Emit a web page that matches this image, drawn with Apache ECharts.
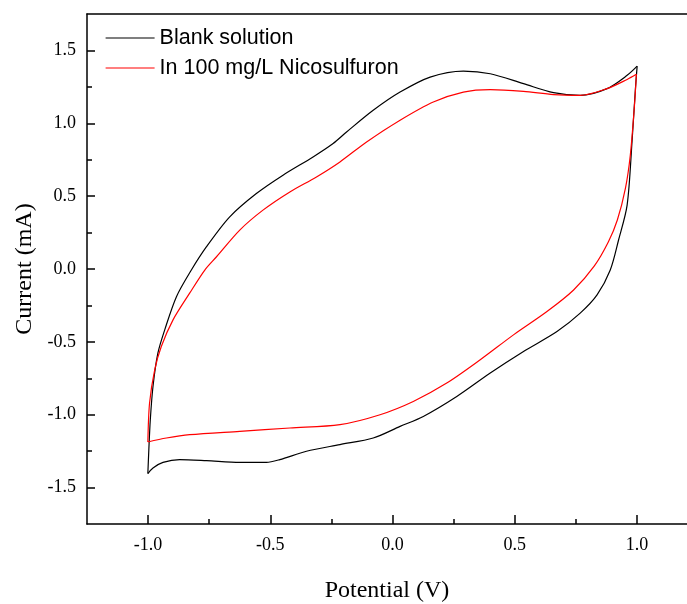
<!DOCTYPE html>
<html>
<head>
<meta charset="utf-8">
<script src="https://cdn.jsdelivr.net/npm/echarts@6/dist/echarts.min.js"></script>
<style>html,body{margin:0;padding:0;background:#fff;}#c{width:687px;height:604px;}</style>
</head>
<body>
<div id="c"></div>
<script>
// ---- data ----
const seriesNames = ['Blank solution', 'In 100 mg/L Nicosulfuron'];
const xTickValues = [-1.0, -0.5, 0.0, 0.5, 1.0];
const xMinorTickValues = [-0.75, -0.25, 0.25, 0.75];
const yTickValues = [-1.5, -1.0, -0.5, 0.0, 0.5, 1.0, 1.5];
const yMinorTickValues = [-1.25, -0.75, -0.25, 0.25, 0.75, 1.25];

// Blank solution: anodic (upper) branch, potential V and current mA
const blankAnodicV = [-1.001, -0.997, -0.991, -0.980, -0.960, -0.932, -0.884, -0.823, -0.761, -0.666, -0.557, -0.448, -0.325, -0.243, -0.188, -0.079, 0.031, 0.154, 0.290, 0.400, 0.536, 0.659, 0.768, 0.878, 0.960, 1.001];
const blankAnodicI = [-1.404, -1.240, -1.034, -0.806, -0.578, -0.418, -0.190, -0.007, 0.153, 0.358, 0.518, 0.644, 0.769, 0.861, 0.940, 1.089, 1.214, 1.317, 1.358, 1.340, 1.272, 1.210, 1.192, 1.238, 1.329, 1.392];
// Blank solution: cathodic (lower) branch
const blankCathodicV = [1.001, 0.994, 0.980, 0.960, 0.925, 0.891, 0.837, 0.768, 0.673, 0.536, 0.400, 0.263, 0.126, 0.031, -0.079, -0.215, -0.352, -0.461, -0.516, -0.625, -0.761, -0.871, -0.939, -0.980, -1.001];
const blankCathodicI = [1.392, 1.238, 0.872, 0.438, 0.199, -0.007, -0.178, -0.303, -0.429, -0.566, -0.714, -0.875, -1.012, -1.080, -1.160, -1.205, -1.251, -1.308, -1.327, -1.327, -1.315, -1.308, -1.327, -1.365, -1.404];

// In 100 mg/L Nicosulfuron: anodic (upper) branch
const nicoAnodicV = [-1.001, -0.994, -0.973, -0.946, -0.898, -0.830, -0.768, -0.720, -0.625, -0.530, -0.420, -0.311, -0.215, -0.106, 0.031, 0.167, 0.290, 0.400, 0.536, 0.659, 0.768, 0.878, 0.960, 0.998];
const nicoAnodicI = [-1.187, -0.920, -0.692, -0.532, -0.349, -0.166, -0.007, 0.084, 0.267, 0.404, 0.529, 0.632, 0.735, 0.872, 1.021, 1.146, 1.214, 1.231, 1.219, 1.197, 1.192, 1.238, 1.301, 1.336];
// In 100 mg/L Nicosulfuron: cathodic (lower) branch
const nicoCathodicV = [0.998, 0.990, 0.973, 0.953, 0.920, 0.883, 0.826, 0.741, 0.632, 0.495, 0.359, 0.222, 0.085, -0.051, -0.215, -0.420, -0.625, -0.830, -0.925, -1.001];
const nicoCathodicI = [1.336, 1.123, 0.781, 0.553, 0.336, 0.185, 0.021, -0.144, -0.292, -0.452, -0.623, -0.783, -0.909, -1.000, -1.068, -1.091, -1.114, -1.137, -1.160, -1.187];

function pairs(xs, ys) { return xs.map((x, i) => [x, ys[i]]); }

const serif = 'Liberation Serif';
const chart = echarts.init(document.getElementById('c'), null, { renderer: 'canvas' });

function lineSeries(name, color, xs, ys) {
  return {
    name: name, type: 'line', xAxisIndex: 0, yAxisIndex: 0,
    data: pairs(xs, ys), symbol: 'none', showSymbol: false,
    smooth: 0.3,
    lineStyle: { color: color, width: 1.2 }, itemStyle: { color: color },
    animation: false
  };
}

const fmt = v => v.toFixed(1);
const xMin = -1.25, xMax = 1.205, yMin = -1.75, yMax = 1.75;
const axisLineStyle = { color: '#000', width: 1.5 };

chart.setOption({
  animation: false,
  backgroundColor: '#fff',
  grid: { left: 87, top: 14, right: 0, bottom: 80, show: false, outerBoundsMode: 'none', containLabel: false },
  legend: {
    data: seriesNames, orient: 'vertical', left: 105, top: 27, padding: 0,
    itemWidth: 49, itemHeight: 14, itemGap: 8,
    itemStyle: { opacity: 0 },
    lineStyle: { width: 1.2 },
    textStyle: { fontFamily: 'Liberation Sans', fontSize: 21.5, lineHeight: 22, color: '#000' },
    selectedMode: false
  },
  xAxis: [{
    type: 'value', min: xMin, max: xMax,
    name: 'Potential (V)', nameLocation: 'middle', nameGap: 55,
    nameTextStyle: { fontFamily: serif, fontSize: 24, color: '#000' },
    axisLine: { onZero: false, lineStyle: axisLineStyle },
    axisTick: { inside: true, length: 9, customValues: xTickValues, lineStyle: axisLineStyle },
    axisLabel: { customValues: xTickValues, formatter: fmt, margin: 12, fontFamily: serif, fontSize: 18, color: '#000' },
    splitLine: { show: false }
  }, {
    type: 'value', min: xMin, max: xMax, position: 'bottom', gridIndex: 0,
    axisLine: { show: false, onZero: false },
    axisTick: { inside: true, length: 5, customValues: xMinorTickValues, lineStyle: axisLineStyle },
    axisLabel: { show: false }, splitLine: { show: false }
  }, {
    type: 'value', min: xMin, max: xMax, position: 'top', gridIndex: 0,
    axisLine: { show: true, onZero: false, lineStyle: axisLineStyle },
    axisTick: { show: false }, axisLabel: { show: false }, splitLine: { show: false }
  }],
  yAxis: [{
    type: 'value', min: yMin, max: yMax,
    name: 'Current (mA)', nameLocation: 'middle', nameGap: 50,
    nameTextStyle: { fontFamily: serif, fontSize: 24, color: '#000' },
    axisLine: { onZero: false, lineStyle: axisLineStyle },
    axisTick: { inside: true, length: 8, customValues: yTickValues, lineStyle: axisLineStyle },
    axisLabel: { customValues: yTickValues, formatter: fmt, margin: 11, fontFamily: serif, fontSize: 18, color: '#000' },
    splitLine: { show: false }
  }, {
    type: 'value', min: yMin, max: yMax, position: 'left', gridIndex: 0,
    axisLine: { show: false, onZero: false },
    axisTick: { inside: true, length: 5, customValues: yMinorTickValues, lineStyle: axisLineStyle },
    axisLabel: { show: false }, splitLine: { show: false }
  }],
  series: [
    lineSeries(seriesNames[0], '#000000', blankAnodicV, blankAnodicI),
    lineSeries(seriesNames[0], '#000000', blankCathodicV, blankCathodicI),
    lineSeries(seriesNames[1], '#ff0000', nicoAnodicV, nicoAnodicI),
    lineSeries(seriesNames[1], '#ff0000', nicoCathodicV, nicoCathodicI)
  ]
});
</script>
</body>
</html>
